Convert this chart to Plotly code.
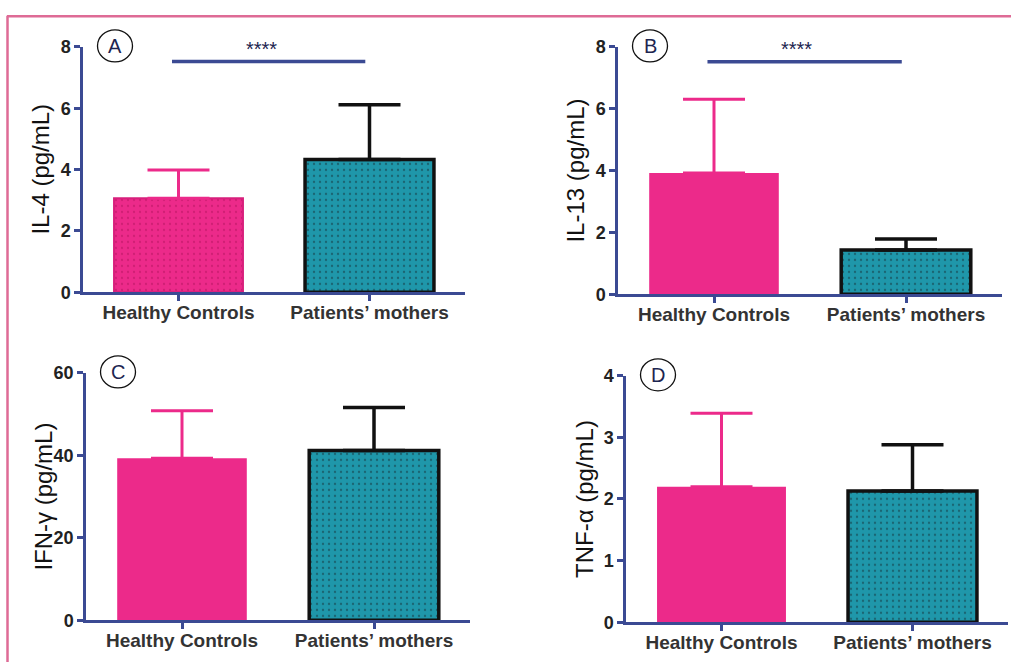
import plotly.graph_objects as go

W, H = 1011, 672

categories = ["Healthy Controls", "Patients\u2019 mothers"]

panel_letters = ["A", "B", "C", "D"]
y_titles = ["IL-4 (pg/mL)", "IL-13 (pg/mL)", "IFN-\u03b3 (pg/mL)", "TNF-\u03b1 (pg/mL)"]

il4_mean = [3.07, 4.33]
il4_sd = [0.92, 1.78]
il13_mean = [3.92, 1.43]
il13_sd = [2.39, 0.36]
ifng_mean = [39.3, 41.2]
ifng_sd = [11.5, 10.4]
tnfa_mean = [2.20, 2.13]
tnfa_sd = [1.19, 0.75]

y_ranges = [[0, 8], [0, 8], [0, 60], [0, 4]]
y_dticks = [2, 2, 20, 1]
sig_level = [7.52, 7.52, None, None]
sig_text = ["****", "****", None, None]

means = [il4_mean, il13_mean, ifng_mean, tnfa_mean]
sds = [il4_sd, il13_sd, ifng_sd, tnfa_sd]

boxes = [(83, 465, 38, 291), (618, 1002, 38, 293), (86, 470, 374, 629), (626, 1008, 377, 631)]

PINK = "#ec2a8a"
TEAL = "#1f97aa"
NAVY = "#3b4a93"
DARK = "#1d2550"

fig = go.Figure()

for i in range(4):
    xl, xr, yt, yb = boxes[i]
    n = i + 1
    xa = "x" if n == 1 else f"x{n}"
    ya = "y" if n == 1 else f"y{n}"
    hc_pattern = dict(shape=".", fgcolor="#b3135f", size=6, solidity=0.12) if i == 0 else dict(shape="")
    fig.add_trace(go.Bar(
        x=[categories[0]], y=[means[i][0]], width=0.675,
        marker=dict(color=PINK, line=dict(color="#d81f7c" if i == 0 else PINK, width=2 if i == 0 else 0),
                    pattern=hc_pattern),
        error_y=dict(type="data", array=[sds[i][0]], arrayminus=[0], symmetric=False,
                     color=PINK, thickness=3, width=31),
        xaxis=xa, yaxis=ya, showlegend=False))
    fig.add_trace(go.Bar(
        x=[categories[1]], y=[means[i][1]], width=0.675,
        marker=dict(color=TEAL, line=dict(color="#111111", width=3.5),
                    pattern=dict(shape=".", fgcolor="#15323a", size=6, solidity=0.12)),
        error_y=dict(type="data", array=[sds[i][1]], arrayminus=[0], symmetric=False,
                     color="#111111", thickness=3.5, width=31),
        xaxis=xa, yaxis=ya, showlegend=False))

    xdom = [xl / W, xr / W]
    ydom = [1 - yb / H, 1 - yt / H]
    axkey = "xaxis" if n == 1 else f"xaxis{n}"
    aykey = "yaxis" if n == 1 else f"yaxis{n}"
    fig.update_layout({
        axkey: dict(domain=xdom, anchor=ya, type="category", range=[-0.5, 1.5],
                    showline=True, linecolor=NAVY, linewidth=2.5, ticks="outside",
                    ticklen=6, tickwidth=2.5, tickcolor=NAVY, showgrid=False, zeroline=False,
                    ticklabelstandoff=-5,
                    tickfont=dict(family="Liberation Sans", size=19, color="#333333", weight="bold"),
                    fixedrange=True),
        aykey: dict(domain=ydom, anchor=xa, range=y_ranges[i], dtick=y_dticks[i],
                    showline=True, linecolor=NAVY, linewidth=2.5, ticks="outside",
                    ticklen=6, tickwidth=2.5, tickcolor=NAVY, showgrid=False, zeroline=False,
                    tickfont=dict(family="Liberation Sans", size=18, color="#222222", weight="bold"),
                    fixedrange=True),
    })

    fig.add_annotation(text=y_titles[i], textangle=-90, xref="paper", yref="paper",
                       x=(xl - 42) / W, y=1 - ((yt + yb) / 2) / H, showarrow=False,
                       font=dict(family="Liberation Sans", size=24, color="#111111"),
                       xanchor="center", yanchor="middle")
    cx, cy = xl + 32, yt - 1
    fig.add_shape(type="circle", xref="paper", yref="paper",
                  x0=(cx - 17.5) / W, x1=(cx + 17.5) / W, y0=1 - (cy + 16.5) / H, y1=1 - (cy - 16.5) / H,
                  line=dict(color="#111111", width=1.3))
    fig.add_annotation(text=panel_letters[i], xref="paper", yref="paper", x=cx / W, y=1 - cy / H,
                       showarrow=False, font=dict(family="Liberation Sans", size=20, color=DARK),
                       xanchor="center", yanchor="middle")
    if sig_level[i] is not None:
        fig.add_shape(type="line", xref=f"{xa} domain", yref=ya, x0=0.233, x1=0.739,
                      y0=sig_level[i], y1=sig_level[i], line=dict(color=NAVY, width=3.5))
        fig.add_annotation(text=sig_text[i], xref=f"{xa} domain", yref=ya, x=0.466, y=sig_level[i],
                           showarrow=False, yanchor="bottom", yshift=0,
                           font=dict(family="Liberation Sans", size=20, color=DARK))

fig.add_shape(type="line", xref="paper", yref="paper", x0=7 / W, x1=1.0, y0=1 - 6.5 / H, y1=1 - 6.5 / H,
              line=dict(color="#de6b96", width=2.5))
fig.add_shape(type="line", xref="paper", yref="paper", x0=7.5 / W, x1=7.5 / W, y0=0, y1=1 - 6 / H,
              line=dict(color="#de6b96", width=2.5))

fig.update_layout(width=W, height=H, margin=dict(l=0, r=0, t=0, b=0),
                  plot_bgcolor="white", paper_bgcolor="white", bargap=0.3)

fig.write_html("out.html", config={"displayModeBar": False},
               post_script="document.body.style.margin='0';")
